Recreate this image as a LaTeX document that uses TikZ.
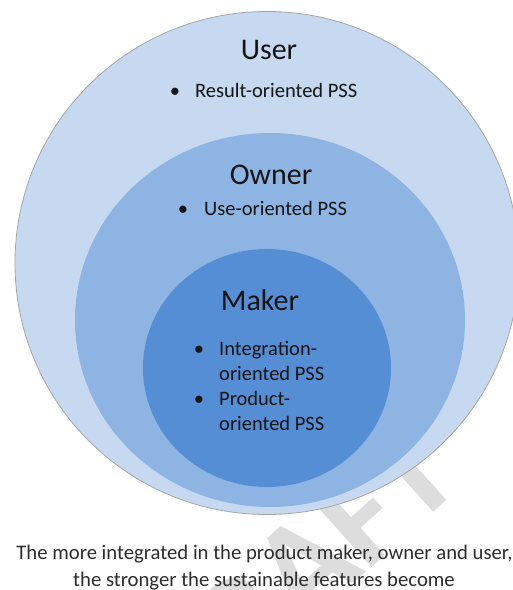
\documentclass[tikz,border=0pt]{standalone}
\usepackage{fontspec}
\setmainfont{Carlito}
\usetikzlibrary{shapes.geometric}
\definecolor{outerblue}{HTML}{C6D9F1}
\definecolor{midblue}{HTML}{8EB4E3}
\definecolor{innerblue}{HTML}{558ED5}
\definecolor{txt}{HTML}{151515}
\definecolor{wm}{HTML}{DDDDDD}
\begin{document}
\begin{tikzpicture}[x=1pt,y=-1pt,
  ring/.style={ellipse,inner sep=0pt,draw=none},
  titletxt/.style={text=txt,font=\fontsize{30}{36}\selectfont,inner sep=0pt},
  itemtxt/.style={text=txt,font=\fontsize{20.5}{25}\selectfont,inner sep=0pt,anchor=base west},
  bultxt/.style={text=txt,font=\fontsize{20.5}{25}\selectfont,inner sep=0pt,anchor=base},
  captxt/.style={text=txt!90,font=\fontsize{20.7}{27}\selectfont,inner sep=0pt,anchor=base}]
\useasboundingbox (0,0) rectangle (513,590);
\fill[white] (0,0) rectangle (513,590);
\node[text=wm,font=\fontsize{140}{140}\selectfont\bfseries,rotate=42,inner sep=0pt] (wmk) at (292,578) {DRAFT};
\node[ring,fill=outerblue,draw=gray!70,line width=0.8pt,minimum width=504pt,minimum height=503pt] (outer) at (267,263) {};
\node[ring,fill=midblue,minimum width=390pt,minimum height=374pt] (mid) at (270,320) {};
\node[ring,fill=innerblue,minimum width=248pt,minimum height=238pt] (inner) at (267,368) {};
\node[titletxt] (user) at (269,50) {User};
\node[bultxt] (b1) at (175,97) {•};
\node[itemtxt] (t1) at (195,97) {Result-oriented PSS};
\node[titletxt] (owner) at (271,175) {Owner};
\node[bultxt] (b2) at (183,215) {•};
\node[itemtxt] (t2) at (204,215) {Use-oriented PSS};
\node[titletxt] (maker) at (260,300) {Maker};
\node[bultxt] (b3) at (199,355) {•};
\node[itemtxt] (t3) at (219,355) {Integration-};
\node[itemtxt] (t4) at (219,380) {oriented PSS};
\node[bultxt] (b4) at (199,405) {•};
\node[itemtxt] (t5) at (219,405) {Product-};
\node[itemtxt] (t6) at (219,430) {oriented PSS};
\node[captxt] (c1) at (264.5,559) {The more integrated in the product maker, owner and user,};
\node[captxt] (c2) at (264,586) {the stronger the sustainable features become};
\end{tikzpicture}
\end{document}
